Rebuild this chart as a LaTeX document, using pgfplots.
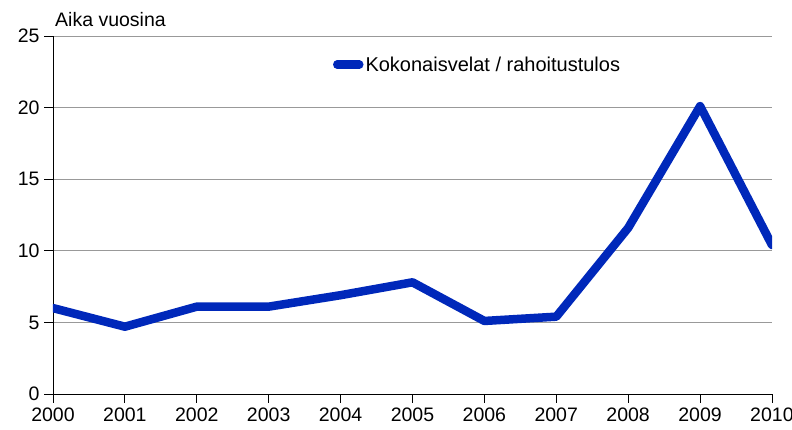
\documentclass[border=0pt]{standalone}
\usepackage{fontspec}
\setmainfont{Liberation Sans}
\usepackage{pgfplots}
\pgfplotsset{compat=1.18}
\usetikzlibrary{calc}
\definecolor{velat}{RGB}{0,40,186}

\begin{document}
\begin{tikzpicture}
\begin{axis}[
    name=ax,
    scale only axis,
    width=719pt, height=358pt,
    xmin=2000, xmax=2010,
    ymin=0, ymax=25,
    xtick={2000,...,2010},
    ytick={0,5,...,25},
    axis x line*=bottom,
    axis y line*=left,
    axis line style={black, line width=0.8pt, -},
    tick align=outside,
    major tick length=9pt,
    tick style={black, line width=0.8pt},
    ymajorgrids,
    grid style={gray!80, line width=0.8pt},
    tick label style={font=\fontsize{19.5}{22}\selectfont},
    /pgf/number format/assume math mode=true,
    xticklabel style={/pgf/number format/1000 sep={}, yshift=-1pt},
    yticklabel style={xshift=-1pt},
    legend style={draw=none, fill=none, at={(0.385,0.92)}, anchor=west,
        font=\fontsize{20}{22}\selectfont},
    legend cell align=left,
    legend image code/.code={
        \draw[#1, line cap=round] (0pt,0pt) -- (22pt,0pt);
    },
]
\addplot[velat, line width=8.5pt, line join=round, line cap=round] coordinates {
    (2000,6.0) (2001,4.7) (2002,6.1) (2003,6.1) (2004,6.9) (2005,7.8)
    (2006,5.1) (2007,5.4) (2008,11.6) (2009,20.1) (2010,10.4)
};
\addlegendentry{Kokonaisvelat / rahoitustulos}
\end{axis}
\node[anchor=base west, font=\fontsize{19.5}{22}\selectfont, inner sep=0pt]
    at ($(ax.north west)+(2pt,9pt)$) {Aika vuosina};
\pgfresetboundingbox
\path[use as bounding box] ($(ax.south west)+(-53pt,-36pt)$) rectangle ($(ax.north east)+(20pt,36pt)$);
\end{tikzpicture}
\end{document}
